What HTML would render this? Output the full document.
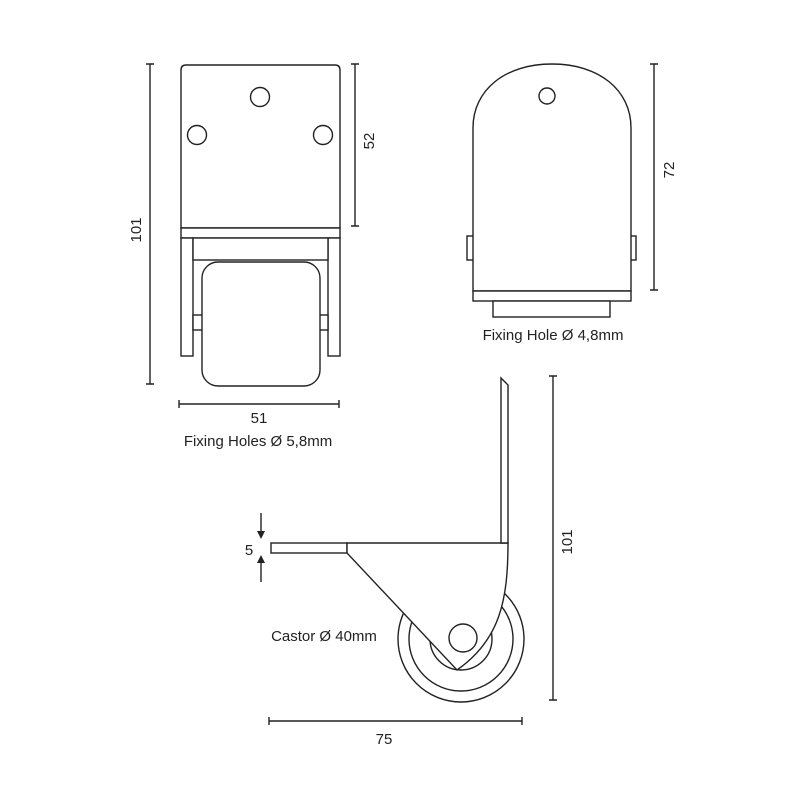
<!DOCTYPE html>
<html><head><style>body{margin:0;background:#fff}svg{display:block}text{font-family:"Liberation Sans",sans-serif;font-size:15px;fill:#222}</style></head>
<body>
<svg width="800" height="800" viewBox="0 0 800 800" xmlns="http://www.w3.org/2000/svg">
<g fill="#fff" stroke="#222" stroke-width="1.4">
<!-- front view -->
<path d="M181,228 V70 Q181,65 186,65 H335 Q340,65 340,70 V228 Z"/>
<rect x="181" y="228" width="159" height="10"/>
<rect x="181" y="238" width="12" height="118"/>
<rect x="328" y="238" width="12" height="118"/>
<rect x="193" y="238" width="135" height="22"/>
<rect x="193" y="315" width="10" height="15"/>
<rect x="318" y="315" width="10" height="15"/>
<rect x="202" y="262" width="118" height="124" rx="16"/>
<circle cx="260" cy="97" r="9.5"/>
<circle cx="197" cy="135" r="9.5"/>
<circle cx="323" cy="135" r="9.5"/>
<!-- side view -->
<rect x="467" y="236" width="7" height="24"/>
<rect x="630" y="236" width="6" height="24"/>
<path d="M473,291 V128 C473,90 505,64 552,64 C599,64 631,90 631,128 V291 Z"/>
<rect x="473" y="291" width="158" height="10"/>
<rect x="493" y="301" width="117" height="16"/>
<circle cx="547" cy="96" r="8"/>
<!-- bottom side view -->
<circle cx="461" cy="639" r="63"/>
<circle cx="461" cy="639" r="52"/>
<circle cx="461" cy="639" r="31"/>
<rect x="271" y="543" width="76" height="10"/>
<path d="M347,543 H508 C508,600 500,640 457,670 L347,553 Z"/>
<circle cx="463" cy="638" r="14"/>
<path d="M501,378 L508,385 V543 H501 Z"/>
</g>
<g stroke="#222" stroke-width="1.4" fill="none">
<path d="M150,64 V384 M146,64 H154 M146,384 H154"/>
<path d="M355,64 V226 M351,64 H359 M351,226 H359"/>
<path d="M179,404 H339 M179,400 V408 M339,400 V408"/>
<path d="M654,64 V290 M650,64 H658 M650,290 H658"/>
<path d="M553,376 V700 M549,376 H557 M549,700 H557"/>
<path d="M269,721 H522 M269,717 V725 M522,717 V725"/>
<path d="M261,513 V532 M261,562 V582"/>
</g>
<g fill="#222"><path d="M257,531 L265,531 L261,539 Z"/><path d="M257,563 L265,563 L261,555 Z"/></g>
<text x="259" y="423" text-anchor="middle">51</text>
<text x="258" y="446" text-anchor="middle">Fixing Holes Ø 5,8mm</text>
<text x="553" y="340" text-anchor="middle">Fixing Hole Ø 4,8mm</text>
<text x="324" y="641" text-anchor="middle">Castor Ø 40mm</text>
<text x="384" y="744" text-anchor="middle">75</text>
<text x="249" y="555" text-anchor="middle">5</text>
<text transform="translate(141,230) rotate(-90)" text-anchor="middle">101</text>
<text transform="translate(374,141) rotate(-90)" text-anchor="middle">52</text>
<text transform="translate(674,170) rotate(-90)" text-anchor="middle">72</text>
<text transform="translate(572,542) rotate(-90)" text-anchor="middle">101</text>
</svg>
</body></html>
